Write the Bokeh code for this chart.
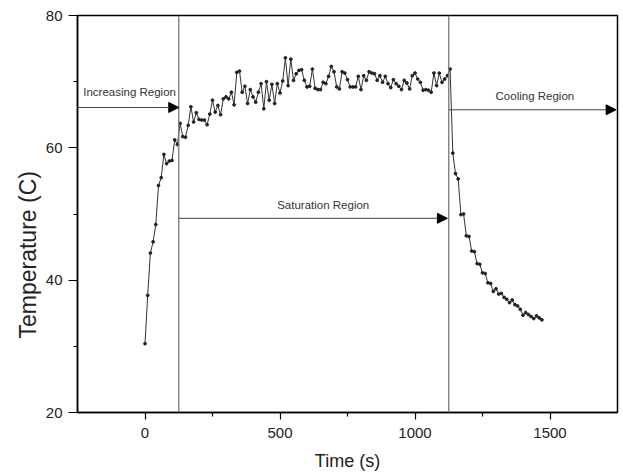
from bokeh.plotting import figure
from bokeh.models import Range1d, Span, Arrow, NormalHead, Label, FixedTicker, Title
from bokeh.embed import file_html
from bokeh.resources import INLINE

time_s = [
    0, 10, 20, 30, 40, 50, 60, 70, 80, 90, 100, 110, 120, 130,
    140, 150, 160, 170, 180, 190, 200, 210, 220, 230,
    240, 250, 260, 270, 280, 290, 300, 310, 320, 330,
    340, 350, 360, 370, 380, 390, 400, 410, 420, 430,
    440, 450, 460, 470, 480, 490, 500, 510, 520, 530,
    540, 550, 560, 570, 580, 590, 600, 610,
    620, 630, 640, 650, 660, 670, 680, 690, 700, 710,
    720, 730, 740, 750, 760, 770, 780, 790, 800, 810,
    820, 830, 840, 850, 860, 870, 880, 890, 900, 910,
    920, 930, 940, 950, 960, 970, 980, 990, 1000, 1010,
    1020, 1030, 1040, 1050, 1060, 1070, 1080, 1090, 1100, 1110,
    1120, 1130,
    1140, 1150, 1160, 1170, 1180, 1190, 1200, 1210, 1220, 1230,
    1240, 1250, 1260, 1270, 1280, 1290, 1300, 1310, 1320, 1330,
    1340, 1350, 1360, 1370, 1380, 1390, 1400, 1410, 1420, 1430,
    1440, 1450, 1460, 1470,
]

temperature_c = [
    30.4, 37.7, 44.1, 45.8, 48.4, 54.3, 55.5, 59.0, 57.6, 58.0, 58.1, 61.2, 60.5, 63.7,
    61.7, 61.6, 63.4, 66.2, 63.9, 65.3, 64.3, 64.2, 64.2, 63.5,
    65.1, 67.2, 65.4, 66.4, 65.0, 67.4, 67.7, 67.4, 68.4, 66.5,
    71.4, 71.6, 68.4, 69.3, 66.7, 68.8, 67.7, 66.9, 68.4, 69.7,
    65.9, 70.0, 67.2, 69.6, 66.7, 69.7, 68.3, 70.1, 73.6, 69.4,
    73.4, 70.2, 71.2, 71.7, 71.8, 70.2, 69.2, 69.3,
    71.9, 69.0, 68.8, 68.8, 69.9, 69.7, 70.8, 72.3, 71.5, 69.2,
    68.9, 71.5, 71.3, 70.3, 69.2, 69.2, 69.2, 70.8, 68.8, 70.9,
    70.2, 71.5, 71.3, 71.2, 70.2, 70.9, 69.9, 70.8, 69.7, 69.1,
    70.3, 69.7, 69.3, 68.8, 70.2, 69.8, 68.9, 70.9, 71.3, 70.4,
    69.9, 68.7, 68.8, 68.7, 68.4, 71.3, 69.4, 71.3, 69.9, 70.4,
    70.9, 71.9,
    59.2, 56.1, 55.3, 49.9, 50.0, 46.7, 46.6, 44.4, 44.3, 42.5,
    42.4, 41.1, 41.0, 39.6, 39.5, 38.3, 38.7, 37.9, 38.0, 37.4,
    37.1, 36.6, 37.0, 36.3, 36.1, 35.6, 34.7, 35.1, 34.8, 34.5,
    34.2, 34.6, 34.3, 34.0,
]

x_major_ticks = [0, 500, 1000, 1500]
x_minor_ticks = [250, 750, 1250]
y_major_ticks = [20, 40, 60, 80]
y_minor_ticks = [30, 50, 70]

region_boundaries = [125, 1125]
region_names = ["Increasing Region", "Saturation Region", "Cooling Region"]
region_label_x = [-57, 660, 1444]
region_label_y = [68.4, 51.4, 67.8]
arrow_x_start = [-250, 125, 1125]
arrow_x_end = [125, 1120, 1745]
arrow_y = [66.1, 49.35, 65.75]

FONT = "Liberation Sans"

p = figure(
    width=623, height=474,
    x_range=Range1d(-250, 1750), y_range=Range1d(20, 80),
    output_backend="svg", toolbar_location=None,
    min_border_left=77, min_border_right=6, min_border_top=15, min_border_bottom=62,
)
p.background_fill_color = "white"
p.border_fill_color = "white"
p.outline_line_color = "black"
p.outline_line_width = 1.5
p.xgrid.visible = False
p.ygrid.visible = False

p.xaxis.ticker = FixedTicker(ticks=x_major_ticks, minor_ticks=x_minor_ticks)
p.yaxis.ticker = FixedTicker(ticks=y_major_ticks, minor_ticks=y_minor_ticks)

for ax in (p.xaxis, p.yaxis):
    ax.axis_line_color = "black"
    ax.axis_line_width = 1.5
    ax.major_tick_line_color = "black"
    ax.minor_tick_line_color = "black"
    ax.major_tick_line_width = 1.2
    ax.minor_tick_line_width = 1.2
    ax.major_tick_in = 0
    ax.minor_tick_in = 0
    ax.major_label_text_font = FONT
    ax.major_label_text_font_size = "15px"
    ax.major_label_text_color = "#222222"
    ax.axis_label_text_font = FONT
    ax.axis_label_text_font_style = "normal"
    ax.axis_label_text_color = "#222222"

p.xaxis.major_tick_out = 7
p.xaxis.minor_tick_out = 4
p.yaxis.major_tick_out = 9
p.yaxis.minor_tick_out = 4
p.xaxis.major_label_standoff = 8
p.yaxis.major_label_standoff = 6
p.xaxis.axis_label = "Time (s)"
p.xaxis.axis_label_text_font_size = "18px"
p.xaxis.axis_label_standoff = 10

# y-axis title as a side Title, anchored from the bottom so it sits where the reference has it
p.add_layout(Title(
    text="Temperature (C)", align="left", offset=74, standoff=4,
    text_font=FONT, text_font_size="23px", text_font_style="normal",
    text_color="#222222",
), "left")

for b in region_boundaries:
    p.add_layout(Span(location=b, dimension="height", line_color="#777777", line_width=1.3))

for xs, xe, yy in zip(arrow_x_start, arrow_x_end, arrow_y):
    p.add_layout(Arrow(
        end=NormalHead(size=10, fill_color="black", line_color="black", line_width=1),
        x_start=xs, y_start=yy, x_end=xe, y_end=yy,
        line_color="#444444", line_width=1,
    ))

for name, lx, ly in zip(region_names, region_label_x, region_label_y):
    p.add_layout(Label(
        x=lx, y=ly, text=name, text_align="center", text_baseline="middle",
        text_font=FONT, text_font_size="11.5px", text_color="#333333",
    ))

p.line(time_s, temperature_c, line_color="#333333", line_width=1)
p.scatter(time_s, temperature_c, size=2.8, marker="circle", color="#222222")

open("out.html", "w").write(file_html(p, INLINE))
